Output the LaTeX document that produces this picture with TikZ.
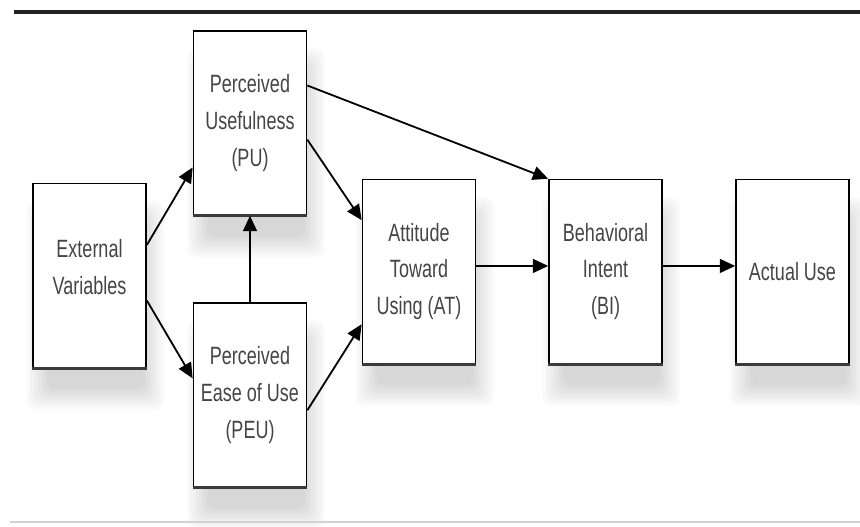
\documentclass[tikz,border=0pt]{standalone}
\usepackage{fontspec}
\newfontfamily\boxfont{Liberation Sans}[FakeStretch=0.72]
\usetikzlibrary{arrows.meta,backgrounds}
\usepackage{xcolor}
\definecolor{textc}{HTML}{454545}
\definecolor{rulec}{HTML}{222222}
\definecolor{lowc}{HTML}{D2D2D2}
\definecolor{edgec}{HTML}{3A3A3A}

\begin{document}
\begin{tikzpicture}[x=0.72pt,y=-0.72pt,
  varbox/.style={draw=black, line width=1.1pt, fill=white,
    minimum width=81.5pt, minimum height=132.5pt, inner sep=0pt,
    text=textc, align=center,
    font=\boxfont\fontsize{18}{26.6}\selectfont},
  shadowlayer/.style={fill=black, opacity=0.016, rounded corners=6pt},
  arr/.style={-{Triangle[length=11pt,width=10pt]}, line width=1.3pt, black}]
  % canvas is 860 x 526 px, one unit = one pixel, y downwards
  \useasboundingbox (0,0) rectangle (860,526);
  \begin{scope}[on background layer]
    \fill[white] (0,0) rectangle (860,526);
  \end{scope}

  % ---- rules above and below
  \draw[rulec, line width=2.2pt] (14,12) -- (860,12);
  \draw[lowc, line width=1.4pt] (10,522) -- (860,522);

  % ---- boxes
  \node[varbox] (ext) at (89.5,275.5) {External\\Variables\\[-14pt]\mbox{}};
  \node[varbox] (pu)  at (250,123)    {Perceived\\Usefulness\\(PU)};
  \node[varbox] (peu) at (250,395)    {Perceived\\Ease of Use\\(PEU)};
  \node[varbox] (at)  at (419,271.5)  {Attitude\\Toward\\Using (AT)};
  \node[varbox] (bi)  at (605.5,271.5) {Behavioral\\Intent\\(BI)};
  \node[varbox] (use) at (792.5,271.5) {Actual Use};

  % ---- soft shadows (stacked layers) and heavier bottom edges
  \foreach \b in {ext,pu,peu,at,bi,use} {
    \begin{scope}[on background layer]
      \foreach \k in {0,...,9}
        \path[shadowlayer]
          ([shift={(-6+2.4*\k,18+2.4*\k)}]\b.north west)
          rectangle ([shift={(18-2.4*\k,42-2.4*\k)}]\b.south east);
    \end{scope}
    \draw[edgec, line width=2pt] (\b.south west) -- (\b.south east);
  }

  % ---- connectors
  \draw[arr] ([yshift=22pt]ext.east)  -- ([yshift=-32pt]pu.west);
  \draw[arr] ([yshift=-18pt]ext.east) -- ([yshift=12pt]peu.west);
  \draw[arr] (peu.north) -- (pu.south);
  \draw[arr] ([yshift=-12pt]pu.east)  -- ([yshift=37pt]at.west);
  \draw[arr] ([yshift=-11pt]peu.east) -- ([yshift=-38pt]at.west);
  \draw[arr] ([yshift=27pt]pu.east)   -- (bi.north west);
  \draw[arr] ([yshift=4pt]at.east)    -- ([yshift=4pt]bi.west);
  \draw[arr] ([yshift=4pt]bi.east)    -- ([yshift=4pt]use.west);

\end{tikzpicture}
\end{document}
